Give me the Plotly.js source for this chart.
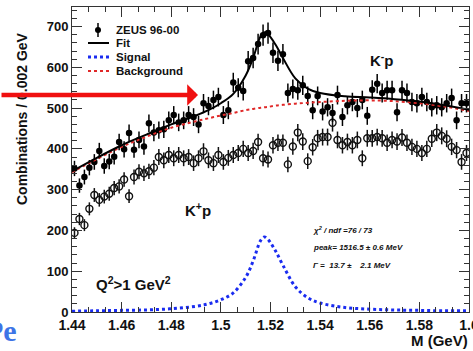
<!DOCTYPE html>
<html>
<head>
<meta charset="utf-8">
<script src="https://cdn.plot.ly/plotly-3.0.1.min.js"></script>
<style>html,body{margin:0;padding:0;background:#fff;}#plot{width:473px;height:351px;}</style>
</head>
<body>
<div id="plot"></div>
<script>
// bin centres (0.002 GeV bins, 1.44 - 1.60)
const binCentres = [];
for (let i = 0; i < 80; i++) binCentres.push(+(1.441 + 0.002 * i).toFixed(3));

// K-p combinations (filled points)
const kmpCounts = [352,310,331,354,368,395,358,369,381,417,399,439,398,422,406,463,440,446,448,470,
  483,465,470,483,478,460,512,505,520,527,483,495,563,550,542,615,623,657,679,684,
  636,616,632,537,547,544,556,530,495,530,492,502,488,532,478,507,515,500,520,481,
  545,560,537,544,544,490,544,537,515,512,527,515,502,507,502,512,525,470,512,512];

// K+p combinations (open points)
const kppCounts = [194,228,213,253,287,275,283,290,304,308,325,284,331,344,340,345,354,380,372,385,
  377,385,377,380,365,377,394,372,365,385,368,378,385,390,400,390,395,417,377,374,
  409,415,415,362,406,440,418,370,404,426,429,429,464,422,409,417,409,422,377,426,
  426,429,426,415,422,418,428,415,405,400,390,400,425,440,432,425,405,397,368,390];

// fitted curves
const curveM   = [1.44,1.45,1.46,1.47,1.48,1.49,1.495,1.50,1.505,1.51,1.513,1.516,1.5175,1.519,1.522,1.525,1.53,1.535,1.54,1.55,1.56,1.57,1.58,1.59,1.60];
const bgCurve  = [343,375,405,430,452,468,475,482,488,495,498,501,502,503,506,508,511,513,515,518,519,517,512,504,493];
const sigCurve = [2,3,4,5,8,14,20,30,47,85,125,175,184,178,150,115,62,35,22,11,7,5,4,3,3];
const fitCurve = [345,378,409,435,460,482,495,512,535,580,623,676,686,681,656,623,573,548,537,529,526,522,516,507,496];

const xTicks = [1.44,1.46,1.48,1.5,1.52,1.54,1.56,1.58,1.6];
const xTickText = ['1.44','1.46','1.48','1.5','1.52','1.54','1.56','1.58','1.6'];
const yTicks = [0,100,200,300,400,500,600,700];

const FONT = 'Liberation Sans, Arial, Helvetica, sans-serif';

const traces = [
  {x: binCentres, y: kppCounts, type:'scatter', mode:'markers',
   marker:{symbol:'circle-open', size:7, color:'#111', line:{width:1.4, color:'#111'}},
   error_y:{type:'sqrt', color:'#111', thickness:1.5, width:0}, showlegend:false},
  {x: binCentres, y: kmpCounts, type:'scatter', mode:'markers',
   marker:{symbol:'circle', size:6.5, color:'#000'},
   error_y:{type:'sqrt', color:'#000', thickness:1.5, width:0}, showlegend:false},
  {x: curveM, y: bgCurve, type:'scatter', mode:'lines',
   line:{color:'#e02828', width:2, dash:'dot', shape:'spline'}, showlegend:false},
  {x: curveM, y: sigCurve, type:'scatter', mode:'lines',
   line:{color:'#1a2cf0', width:3, dash:'dot', shape:'spline'}, showlegend:false},
  {x: curveM, y: fitCurve, type:'scatter', mode:'lines',
   line:{color:'#000', width:2, shape:'spline'}, showlegend:false}
];

const W = 397, H = 305, L = 72, B = 312;
const px = v => (v - L) / W;
const py = v => (B - v) / H;

const shapes = [
  {type:'circle', xref:'paper', yref:'paper', x0:px(95), x1:px(101), y0:py(33), y1:py(27), fillcolor:'#000', line:{width:0}},
  {type:'line', xref:'paper', yref:'paper', x0:px(98), x1:px(98), y0:py(23), y1:py(37), line:{color:'#000', width:1.5}},
  {type:'line', xref:'paper', yref:'paper', x0:px(88), x1:px(109), y0:py(43), y1:py(43), line:{color:'#000', width:2}},
  {type:'line', xref:'paper', yref:'paper', x0:px(88), x1:px(109), y0:py(57), y1:py(57), line:{color:'#1a2cf0', width:3, dash:'dot'}},
  {type:'line', xref:'paper', yref:'paper', x0:px(88), x1:px(109), y0:py(71), y1:py(71), line:{color:'#e02828', width:2, dash:'dot'}}
];

function txt(text, x, y, size, opts) {
  return Object.assign({text:text, xref:'paper', yref:'paper', x:px(x), y:py(y), showarrow:false,
    xanchor:'left', yanchor:'middle', font:{family:FONT, size:size, color:'#111', weight:'bold'}}, opts || {});
}

const annotations = [
  txt('ZEUS 96-00', 114, 30, 11.5),
  txt('Fit', 114, 43, 11.5),
  txt('Signal', 114, 57, 11.5),
  txt('Background', 114, 71, 11.5),
  txt('K<sup>-</sup>p', 382, 60, 15, {xanchor:'center'}),
  txt('K<sup>+</sup>p', 198, 210, 15, {xanchor:'center'}),
  txt('Q<sup>2</sup>&gt;1 GeV<sup>2</sup>', 133, 283, 15, {xanchor:'center'}),
  txt('<i>χ<sup>2</sup> / ndf =76 / 73</i>', 311, 230, 8),
  txt('<i>peak= 1516.5 ± 0.6 MeV</i>', 311, 248, 8),
  txt('<i>Γ =  13.7 ±    2.1 MeV</i>', 311, 265, 8),
  txt('M (GeV)', 470, 340, 15, {xanchor:'right'}),
  txt('Combinations / 0.002 GeV', 22, 119, 14, {xanchor:'center', textangle:-90}),
  {text:'', xref:'paper', yref:'paper', x:px(198), y:py(95), ax:-205, ay:0, showarrow:true,
   arrowhead:1, arrowsize:0.8, arrowwidth:4.5, arrowcolor:'#f01010', standoff:0},
  {text:'<b>Pe</b>', xref:'paper', yref:'paper', x:px(19), y:py(330), showarrow:false, xanchor:'right', yanchor:'middle',
   font:{family:'Liberation Serif, Times New Roman, serif', size:30, color:'#3d74e6'}}
];

const axisCommon = {showline:true, linecolor:'#333', linewidth:1, mirror:'allticks', ticks:'inside',
  tickcolor:'#333', zeroline:false, showgrid:false, ticklabeloverflow:'allow',
  tickfont:{family:FONT, size:14, color:'#111', weight:'bold'}};

const layout = {
  width:473, height:351, margin:{l:72, r:4, t:7, b:39},
  paper_bgcolor:'#fff', plot_bgcolor:'#fff', showlegend:false,
  xaxis: Object.assign({}, axisCommon, {range:[1.44,1.6], tickvals:xTicks, ticktext:xTickText, ticklen:10,
    minor:{dtick:0.02/3, tick0:1.44, ticklen:5, ticks:'inside', tickcolor:'#333'}}),
  yaxis: Object.assign({}, axisCommon, {range:[0,748], tickvals:yTicks, ticklen:10,
    tickfont:{family:FONT, size:13, color:'#111', weight:'bold'},
    minor:{dtick:20, tick0:0, ticklen:5, ticks:'inside', tickcolor:'#333'}}),
  shapes: shapes,
  annotations: annotations
};

Plotly.newPlot('plot', traces, layout, {staticPlot:true, displayModeBar:false});
</script>
</body>
</html>
